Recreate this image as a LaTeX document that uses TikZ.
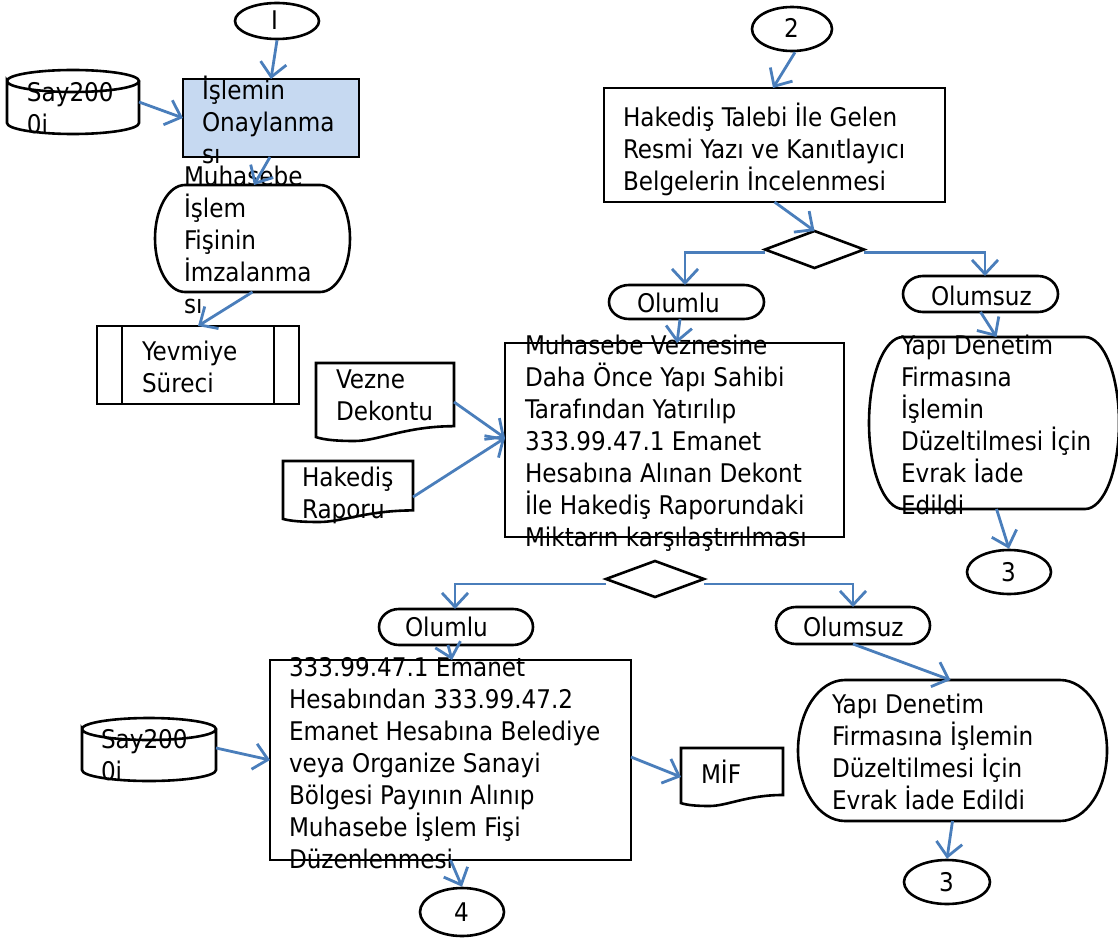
\documentclass[tikz,border=0pt]{standalone}
\usepackage{fontspec}
\setmainfont{DejaVu Sans Condensed}
\usetikzlibrary{arrows.meta,shapes.geometric,calc}
\definecolor{arrowblue}{RGB}{74,126,187}
\definecolor{procblue}{RGB}{198,217,241}
\tikzset{
  shp/.style={draw=black,line width=2.6pt,line join=miter},
  arr/.style={draw=arrowblue,line width=2.8pt,-{Straight Barb[length=14pt,width=26pt,line width=2.8pt]}},
  txt/.style={inner sep=0pt,outer sep=0pt,align=left,anchor=north west,font=\fontsize{25.7}{32}\selectfont},
  slot/.style={inner sep=0pt,outer sep=0pt,minimum width=0pt,minimum height=0pt},
}
% invisible named frame
\newcommand\frm[5]{\node[slot,minimum width={(#4-(#2))*1pt},minimum height={(#5-(#3))*1pt}] (#1) at ({(#2+#4)/2},{(#3+#5)/2}) {};}
\newcommand\bxx[6][]{\draw[shp,#1] (#3,#4) rectangle (#5,#6);\frm{#2}{#3}{#4}{#5}{#6}}
\newcommand\ovl[5]{\node[shp,ellipse,inner sep=0pt,minimum width={(#4*2)*1pt},minimum height={(#5*2)*1pt}] (#1) at (#2,#3) {};}
\newcommand\dmd[5]{\frm{#1}{#2}{#3}{#4}{#5}\draw[shp] (#1.west) -- (#1.north) -- (#1.east) -- (#1.south) -- cycle;}
% rounded flowchart terminator: name x1 y1 x2 y2 rx
\newcommand\term[6]{\pgfmathsetmacro\myry{(#5-(#3))/2}\pgfmathsetmacro\myym{(#3+#5)/2}\pgfmathsetmacro\mykx{0.5523*#6}\pgfmathsetmacro\myky{0.5523*\myry}
 \draw[shp] ({#2+#6},#3) -- ({#4-#6},#3) .. controls ({#4-#6+\mykx},#3) and (#4,{\myym-\myky}) .. (#4,\myym) .. controls (#4,{\myym+\myky}) and ({#4-#6+\mykx},#5) .. ({#4-#6},#5) -- ({#2+#6},#5) .. controls ({#2+#6-\mykx},#5) and (#2,{\myym+\myky}) .. (#2,\myym) .. controls (#2,{\myym-\myky}) and ({#2+#6-\mykx},#3) .. ({#2+#6},#3) -- cycle;
 \frm{#1}{#2}{#3}{#4}{#5}}
% cylinder: name x1 y1 x2 y2 ry
\newcommand\cyl[6]{\pgfmathsetmacro\myxm{(#2+#4)/2}\pgfmathsetmacro\mykx{0.5523*(#4-(#2))/2}\pgfmathsetmacro\mykk{0.5523*#6}
 \draw[shp] (#2,{#3+#6}) .. controls (#2,{#3+#6-\mykk}) and ({\myxm-\mykx},#3) .. (\myxm,#3) .. controls ({\myxm+\mykx},#3) and (#4,{#3+#6-\mykk}) .. (#4,{#3+#6}) .. controls (#4,{#3+#6+\mykk}) and ({\myxm+\mykx},{#3+2*#6}) .. (\myxm,{#3+2*#6}) .. controls ({\myxm-\mykx},{#3+2*#6}) and (#2,{#3+#6+\mykk}) .. (#2,{#3+#6}) -- (#2,{#5-#6}) .. controls (#2,{#5-#6+\mykk}) and ({\myxm-\mykx},#5) .. (\myxm,#5) .. controls ({\myxm+\mykx},#5) and (#4,{#5-#6+\mykk}) .. (#4,{#5-#6}) -- (#4,{#3+#6});
 \frm{#1}{#2}{#3}{#4}{#5}}
% document shape
\newcommand\docu[5]{\pgfmathsetmacro\mydw{#4-(#2)}\pgfmathsetmacro\mydh{(#5-(#3))*0.19}\pgfmathsetmacro\mydl{(#5-(#3))*0.05}
 \draw[shp] (#2,#3) -- (#4,#3) -- (#4,{#5-\mydh}) .. controls ({#4-0.35*\mydw},{#5-\mydh}) and ({#4-0.55*\mydw},#5) .. ({#4-0.72*\mydw},#5) .. controls ({#4-0.85*\mydw},#5) and ({#2+0.06*\mydw},{#5-0.3*\mydl}) .. (#2,{#5-\mydl}) -- cycle;
 \frm{#1}{#2}{#3}{#4}{#5}}
% text: name left firstbaseline lines
\newcommand\tx[4]{\node[txt] (#1) at (#2,{#3-21}) {\rule{0pt}{21pt}#4};}
\begin{document}
\begin{tikzpicture}[x=1pt,y=-1pt]
\useasboundingbox (0,0) rectangle (1118,941);
% left column
\ovl{nI}{277}{21}{42}{18}
\tx{tI}{271}{30}{I}
\cyl{cA}{7}{70}{139}{134}{11}
\tx{tcA}{27}{102}{Say200\\0i}
\bxx[fill=procblue]{pA}{183}{79}{359}{157}
\tx{tpA}{202}{97}{İşlemin\\Onaylanma\\sı}
\term{tmA}{155}{185}{350}{292}{30}
\tx{ttmA}{184}{185}{Muhasebe\\İşlem\\Fişinin\\İmzalanma\\sı}
\bxx{yv}{97}{326}{299}{404}
\draw[shp] (122,326) -- (122,404) (274,326) -- (274,404);
\tx{tyv}{142}{360}{Yevmiye\\Süreci}
\docu{dV}{316}{363}{454}{441}
\tx{tdV}{336}{388}{Vezne\\Dekontu}
\docu{dH}{283}{461}{413}{522}
\tx{tdH}{302}{486}{Hakediş\\Raporu}
% top right
\ovl{n2}{792}{29}{40}{22}
\tx{t2}{784}{38}{2}
\bxx{pB}{604}{88}{945}{202}
\tx{tpB}{623}{124}{Hakediş Talebi İle Gelen\\Resmi Yazı ve Kanıtlayıcı\\Belgelerin İncelenmesi}
\dmd{dA}{765}{231}{864}{268}
\term{oA}{609}{285}{764}{319}{20}
\tx{toA}{637}{312}{Olumlu}
\term{oB}{903}{276}{1058}{312}{20}
\tx{toB}{931}{305}{Olumsuz}
\bxx{pC}{505}{343}{844}{537}
\tx{tpC}{525}{354}{Muhasebe Veznesine\\Daha Önce Yapı Sahibi\\Tarafından Yatırılıp\\333.99.47.1 Emanet\\Hesabına Alınan Dekont\\İle Hakediş Raporundaki\\Miktarın karşılaştırılması}
\term{tmB}{869}{337}{1119}{509}{34}
\tx{ttmB}{901}{354}{Yapı Denetim\\Firmasına\\İşlemin\\Düzeltilmesi İçin\\Evrak İade\\Edildi}
\ovl{n3a}{1009}{572}{42}{22}
\tx{tn3a}{1001}{581}{3}
% lower
\dmd{dB}{606}{561}{704}{597}
\term{oC}{379}{609}{533}{645}{20}
\tx{toC}{405}{636}{Olumlu}
\term{oD}{776}{607}{930}{644}{20}
\tx{toD}{803}{636}{Olumsuz}
\bxx{pD}{270}{660}{631}{860}
\tx{tpD}{289}{676}{333.99.47.1 Emanet\\Hesabından 333.99.47.2\\Emanet Hesabına Belediye\\veya Organize Sanayi\\Bölgesi Payının Alınıp\\Muhasebe İşlem Fişi\\Düzenlenmesi}
\cyl{cB}{82}{718}{216}{781}{11}
\tx{tcB}{101}{748}{Say200\\0i}
\docu{dM}{681}{748}{783}{806}
\tx{tdM}{701}{781}{MİF}
\ovl{n4}{462}{912}{42}{24}
\tx{tn4}{454}{921}{4}
\term{tmC}{798}{680}{1107}{821}{47}
\tx{ttmC}{832}{713}{Yapı Denetim\\Firmasına İşlemin\\Düzeltilmesi İçin\\Evrak İade Edildi}
\ovl{n3b}{947}{882}{43}{22}
\tx{tn3b}{939}{891}{3}
% connectors
\draw[arr] (nI.south) -- (pA.north);
\draw[arr] (cA.east) -- (pA.west);
\draw[arr] ([xshift=-1pt]pA.south) -- ([xshift=1.5pt]tmA.north);
\draw[arr] (tmA.south) -- (yv.north);
\draw[arr] ([xshift=3pt]n2.south) -- ([xshift=-1.5pt]pB.north);
\draw[arr] (pB.south) -- (dA.north);
\draw[arr] ([yshift=-3pt]dA.west) -| ([xshift=-1.5pt]oA.north);
\draw[arr] ([yshift=-3pt]dA.east) -| ([xshift=4.5pt]oB.north);
\draw[arr] ([xshift=-6.5pt]oA.south) -- ([xshift=2.5pt]pC.north);
\draw[arr] (oB.south) -- ([xshift=2.5pt]tmB.north);
\draw[arr] ([xshift=2.5pt]tmB.south) -- (n3a.north);
\draw[arr] (dV.east) -- ([yshift=2pt]pC.west);
\draw[arr] ([yshift=-5.5pt]dH.east) -- ([yshift=2pt]pC.west);
\draw[arr] ([yshift=-5pt]dB.west) -| ([xshift=-1pt]oC.north);
\draw[arr] ([yshift=-5pt]dB.east) -| (oD.north);
\draw[arr] ([xshift=-8pt]oC.south) -- ([xshift=1.5pt]pD.north);
\draw[arr] (oD.south) -- ([xshift=-2pt]tmC.north);
\draw[arr] (tmC.south) -- (n3b.north);
\draw[arr] ([yshift=1.5pt]cB.east) -- (pD.west);
\draw[arr] ([yshift=3pt]pD.east) -- (dM.west);
\draw[arr] (pD.south) -- (n4.north);
\end{tikzpicture}
\end{document}
